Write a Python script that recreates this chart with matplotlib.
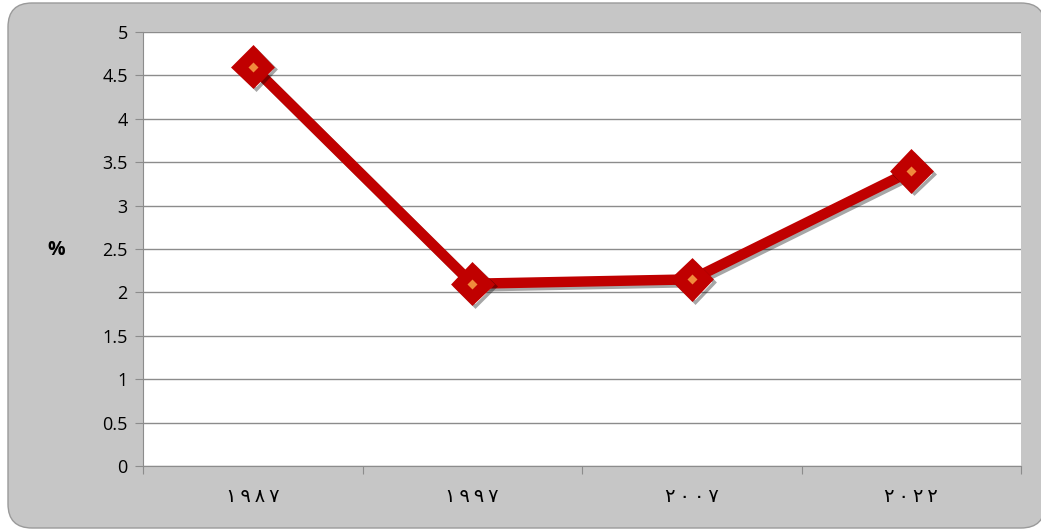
import matplotlib
matplotlib.use("Agg")
import matplotlib.pyplot as plt
from matplotlib.patches import FancyBboxPatch
import matplotlib.patheffects as pe

# data
years = ["١٩٨٧", "١٩٩٧", "٢٠٠٧", "٢٠٢٢"]
values = [4.6, 2.1, 2.15, 3.4]
y_ticks = [0, 0.5, 1, 1.5, 2, 2.5, 3, 3.5, 4, 4.5, 5]

W, H = 1041, 531
fig = plt.figure(figsize=(W / 100, H / 100), dpi=100)
fig.patch.set_facecolor("white")

# background axes in pixel units for the rounded grey chart area
bg_ax = fig.add_axes([0, 0, 1, 1], zorder=0)
bg_ax.set_xlim(0, W)
bg_ax.set_ylim(H, 0)
bg_ax.axis("off")
bg_ax.add_patch(FancyBboxPatch((8, 3), 1037, 525,
                               boxstyle="round,pad=0,rounding_size=24",
                               facecolor="#c6c6c6", edgecolor="#9a9a9a",
                               linewidth=1.0))

ax = fig.add_axes([143 / W, 1 - 466 / H, (1021 - 143) / W, (466 - 32) / H], zorder=1)
ax.set_facecolor("white")

x = list(range(len(years)))
shadow = [pe.SimpleLineShadow(offset=(2, -2), shadow_color="black", alpha=0.35), pe.Normal()]
ax.plot(x, values, color="#c00000", linewidth=7.5, solid_capstyle="round",
        solid_joinstyle="round", zorder=3, path_effects=shadow)
ax.plot(x, values, linestyle="none", marker="D", markersize=20,
        markerfacecolor="#c00000", markeredgecolor="#c00000",
        markeredgewidth=2.5, zorder=4, path_effects=shadow)
ax.plot(x, values, linestyle="none", marker="D", markersize=5.5,
        markerfacecolor="#f08a3c", markeredgecolor="none", zorder=5)

ax.set_xlim(-0.5, len(years) - 0.5)
ax.set_ylim(0, 5)
ax.set_yticks(y_ticks)
ax.set_yticklabels([f"{v:g}" for v in y_ticks], fontsize=13, family="Open Sans")
ax.yaxis.grid(True, color="#8c8c8c", linewidth=1.0)
ax.set_axisbelow(True)

ax.set_xticks([i + 0.5 for i in range(-1, len(years))])
ax.set_xticklabels([])
ax.set_xticks(x, minor=True)
ax.set_xticklabels(["\u2009".join(y) for y in years], minor=True,
                   fontsize=14, family="DejaVu Sans")
ax.tick_params(axis="x", which="minor", length=0, pad=15)
ax.tick_params(axis="x", which="major", length=6, color="#8c8c8c", direction="out")
ax.tick_params(axis="y", length=6, color="#8c8c8c", direction="out", pad=5)

for side in ["top", "right"]:
    ax.spines[side].set_visible(False)
for side in ["left", "bottom"]:
    ax.spines[side].set_color("#8c8c8c")

fig.text(56 / W, 1 - 250 / H, "%", fontsize=14, fontweight="bold",
         ha="center", va="center", family="Open Sans")

fig.savefig("out.png", dpi=100, facecolor=fig.get_facecolor())
